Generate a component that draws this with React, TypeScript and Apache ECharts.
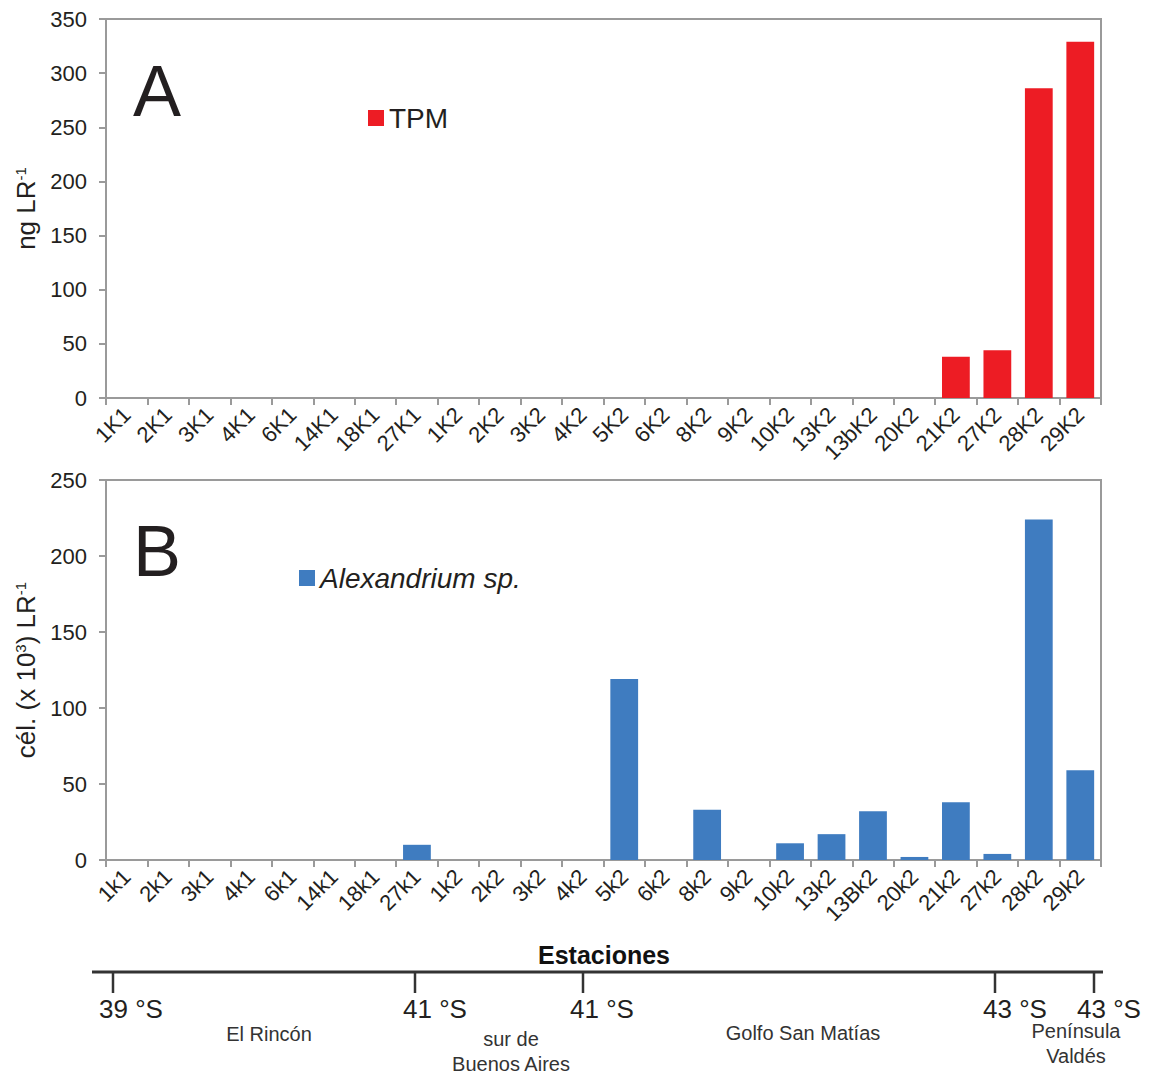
import React, { useEffect, useRef } from "react";
import * as echarts from "echarts";

const categoriesA = ["1K1","2K1","3K1","4K1","6K1","14K1","18K1","27K1","1K2","2K2","3K2","4K2","5K2","6K2","8K2","9K2","10K2","13K2","13bK2","20K2","21K2","27K2","28K2","29K2"];
const tpmValues = [0,0,0,0,0,0,0,0,0,0,0,0,0,0,0,0,0,0,0,0,38,44,286,329];

const categoriesB = ["1k1","2k1","3k1","4k1","6k1","14k1","18k1","27k1","1k2","2k2","3k2","4k2","5k2","6k2","8k2","9k2","10k2","13k2","13Bk2","20k2","21k2","27k2","28k2","29k2"];
const alexValues = [0,0,0,0,0,0,0,10,0,0,0,0,119,0,33,0,11,17,32,2,38,4,224,59];

const yTicksA = { min: 0, max: 350, interval: 50 };
const yTicksB = { min: 0, max: 250, interval: 50 };

const latTicks = [
  { label: "39 °S", x: 113 },
  { label: "41 °S", x: 415 },
  { label: "41 °S", x: 583 },
  { label: "43 °S", x: 995 },
  { label: "43 °S", x: 1094 },
];
const latLabelX = [131, 435, 602, 1015, 1109];
const regions = [
  { lines: ["El Rincón"], x: 269, y: 1034 },
  { lines: ["sur de", "Buenos Aires"], x: 511, y: 1039 },
  { lines: ["Golfo San Matías"], x: 803, y: 1033 },
  { lines: ["Península", "Valdés"], x: 1076, y: 1031 },
];

const FONT = "Liberation Sans, Arial, sans-serif";
const NARROW = "Liberation Sans Narrow, Liberation Sans, Arial, sans-serif";
const AXIS_GREY = "#9a9a9a";
const TXT = "#231f20";

export default function App() {
  const ref = useRef<HTMLDivElement>(null);
  useEffect(() => {
    document.body.style.margin = "0";
    const chart = echarts.init(ref.current!, null, { renderer: "svg" });
    const xAxisBase = (gridIndex: number, data: string[]) => ({
      type: "category",
      gridIndex,
      data,
      axisLine: { show: true, lineStyle: { color: AXIS_GREY, width: 2 } },
      axisTick: { show: true, length: 7, lineStyle: { color: AXIS_GREY, width: 2 } },
      axisLabel: { rotate: 45, fontSize: 22, color: TXT, fontFamily: FONT, margin: 13, interval: 0 },
    });
    const yAxisBase = (gridIndex: number, t: any, name: string, nameGap: number) => ({
      type: "value",
      gridIndex,
      min: t.min,
      max: t.max,
      interval: t.interval,
      name,
      nameLocation: "middle",
      nameGap,
      nameTextStyle: {
        color: TXT,
        fontFamily: FONT,
        rich: {
          a: { fontSize: 26, color: TXT, fontFamily: FONT },
          s: { fontSize: 15, color: TXT, fontFamily: FONT, verticalAlign: "top", padding: [0, 0, 12, 0] },
        },
      },
      splitLine: { show: false },
      axisLine: { show: true, lineStyle: { color: AXIS_GREY, width: 2 } },
      axisTick: { show: true, length: 7, lineStyle: { color: AXIS_GREY, width: 2 } },
      axisLabel: { fontSize: 22, color: TXT, fontFamily: FONT, margin: 19 },
    });

    const graphic: any[] = [
      { type: "text", left: 133, top: 55, style: { text: "A", fontSize: 72, fill: TXT, fontFamily: FONT } },
      { type: "text", left: 133, top: 515, style: { text: "B", fontSize: 72, fill: TXT, fontFamily: FONT } },
      { type: "text", x: 604, y: 955, style: { text: "Estaciones", fontSize: 25, fontWeight: "bold", fill: "#111", fontFamily: NARROW, textAlign: "center", textVerticalAlign: "middle" } },
      { type: "line", shape: { x1: 92, y1: 972, x2: 1103, y2: 972 }, style: { stroke: "#333", lineWidth: 3 } },
    ];
    latTicks.forEach((t, i) => {
      graphic.push({ type: "line", shape: { x1: t.x, y1: 972, x2: t.x, y2: 993 }, style: { stroke: "#333", lineWidth: 2.5 } });
      graphic.push({ type: "text", x: latLabelX[i], y: 1009, style: { text: t.label, fontSize: 26, fill: TXT, fontFamily: NARROW, textAlign: "center", textVerticalAlign: "middle" } });
    });
    regions.forEach((r) => {
      r.lines.forEach((ln, j) => {
        graphic.push({ type: "text", x: r.x, y: r.y + j * 25, style: { text: ln, fontSize: 20, fill: "#333", fontFamily: NARROW, textAlign: "center", textVerticalAlign: "middle" } });
      });
    });

    chart.setOption({
      animation: false,
      backgroundColor: "#fff",
      grid: [
        { left: 106, top: 19, width: 995, height: 379, show: true, borderColor: AXIS_GREY, borderWidth: 2, containLabel: false },
        { left: 106, top: 480, width: 995, height: 380, show: true, borderColor: AXIS_GREY, borderWidth: 2, containLabel: false },
      ],
      legend: [
        {
          data: ["TPM"], left: 363, top: 99, icon: "rect", itemWidth: 16, itemHeight: 16, itemGap: 6,
          textStyle: { fontSize: 28, color: TXT, fontFamily: FONT },
        },
        {
          data: ["Alexandrium sp."], left: 294, top: 559, icon: "rect", itemWidth: 16, itemHeight: 16,
          textStyle: { fontSize: 28, color: TXT, fontFamily: FONT, fontStyle: "italic" },
        },
      ],
      xAxis: [xAxisBase(0, categoriesA), xAxisBase(1, categoriesB)],
      yAxis: [
        yAxisBase(0, yTicksA, "{a|ng LR}{s|-1}", 64),
        yAxisBase(1, yTicksB, "{a|cél. (x 10}{s|3}{a|) LR}{s|-1}", 64),
      ],
      graphic,
      series: [
        {
          name: "TPM", type: "bar", xAxisIndex: 0, yAxisIndex: 0, data: tpmValues,
          barCategoryGap: "33%",
          itemStyle: { color: "#ED1C24" },
        },
        {
          name: "Alexandrium sp.", type: "bar", xAxisIndex: 1, yAxisIndex: 1, data: alexValues,
          barCategoryGap: "33%",
          itemStyle: { color: "#3F7CC0" },
        },
      ],
    });
    return () => chart.dispose();
  }, []);
  return <div ref={ref} style={{ width: 1152, height: 1074 }} />;
}
